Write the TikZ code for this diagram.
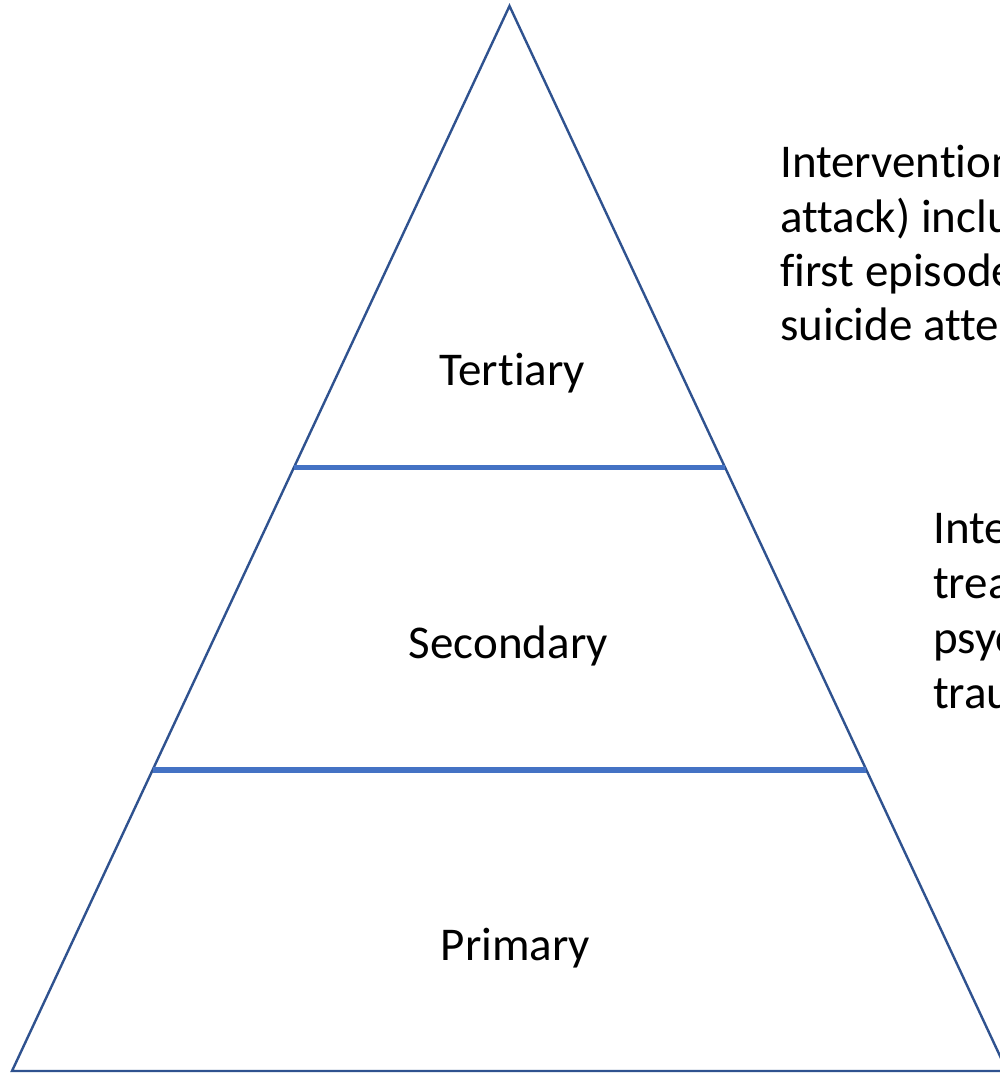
\documentclass[tikz,border=0pt]{standalone}
\usepackage{fontspec}
\setmainfont{Carlito}[Ligatures={NoCommon}]
\usetikzlibrary{calc}
\definecolor{outlineblue}{HTML}{2F528F}
\definecolor{bandblue}{HTML}{4472C4}
\tikzset{
  outline/.style={draw=outlineblue, line width=2.4pt, line join=miter},
  band/.style={draw=bandblue, line width=5.5pt},
  label/.style={inner sep=0pt, anchor=base, font=\fontsize{47}{55}\selectfont},
  sidetext/.style={inner sep=0pt, anchor=base west, font=\fontsize{47}{55}\selectfont}
}
\begin{document}
\begin{tikzpicture}[x=1pt, y=-1pt]
\clip (0,0) rectangle (1000,1073);
\fill[white] (0,0) rectangle (1000,1073);
\coordinate (apex) at (509.5,6);
\coordinate (bl) at (12,1071);
\coordinate (br) at (1007,1071);
\draw[outline] (apex) -- (bl) -- (br) -- cycle;
\coordinate (u1) at ($(apex)!0.4335!(bl)$);
\coordinate (u2) at ($(apex)!0.4335!(br)$);
\coordinate (l1) at ($(apex)!0.7174!(bl)$);
\coordinate (l2) at ($(apex)!0.7174!(br)$);
\draw[band] (u1) -- (u2);
\draw[band] (l1) -- (l2);
\node[label] (tert) at (512.5,385) {Tertiary};
\node[label] (sec) at (508.5,658) {Secondary};
\node[label] (prim) at (515.5,960) {Primary};
\node[sidetext] (a1) at (780,177) {Intervention};
\node[sidetext] (a2) at (780,232) {attack) including};
\node[sidetext] (a3) at (780,286) {first episode};
\node[sidetext] (a4) at (780,340) {suicide attempt};
\node[sidetext] (b1) at (933,543) {Intervention};
\node[sidetext] (b2) at (933,598) {treatment};
\node[sidetext] (b3) at (933,653) {psychological};
\node[sidetext] (b4) at (933,708) {trauma};
\end{tikzpicture}
\end{document}
